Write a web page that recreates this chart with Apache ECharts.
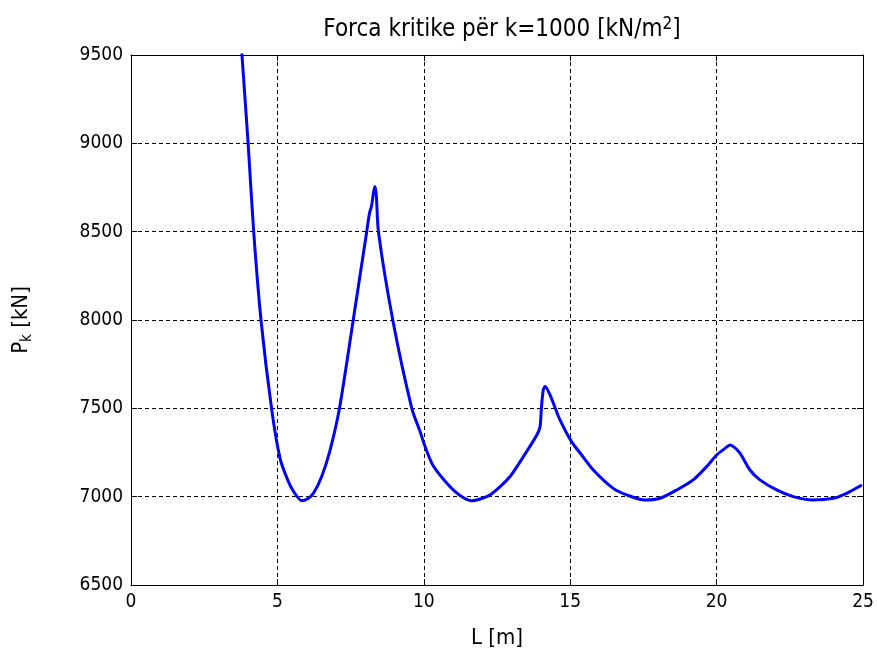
<!DOCTYPE html>
<html>
<head>
<meta charset="utf-8">
<script src="https://cdn.jsdelivr.net/npm/echarts@6/dist/echarts.min.js"></script>
<style>html,body{margin:0;padding:0;background:#fff}#c{width:877px;height:656px}</style>
</head>
<body>
<div id="c"></div>
<script>
const titleText = 'Forca kritike për k=1000 [kN/m{sup|2}]';
const xTicks = [0, 5, 10, 15, 20, 25];
const yTicks = [6500, 7000, 7500, 8000, 8500, 9000, 9500];
const L = [3.7, 3.79, 4.0, 4.19, 4.44, 4.80, 5.09, 5.35, 5.55, 5.83, 6.05, 6.23, 6.51, 6.80, 7.12, 7.59, 8.05, 8.14, 8.22, 8.28, 8.33, 8.38, 8.45, 8.94, 9.59, 9.87, 10.04, 10.32, 10.89, 11.25, 11.63, 12.26, 12.94, 13.51, 13.86, 13.97, 14.02, 14.08, 14.14, 14.31, 14.65, 15.05, 15.39, 15.79, 16.47, 16.93, 17.55, 18.07, 18.64, 19.2, 19.66, 20.0, 20.3, 20.46, 20.60, 20.80, 21.14, 21.48, 22.05, 22.62, 23.3, 23.99, 24.44, 24.96];
const P = [9730, 9500, 9000, 8500, 8000, 7500, 7217, 7095, 7030, 6977, 6990, 7019, 7113, 7264, 7500, 8000, 8500, 8600, 8650, 8720, 8755, 8700, 8500, 8000, 7500, 7370, 7285, 7175, 7057, 7005, 6977, 7010, 7113, 7255, 7349, 7396, 7510, 7604, 7623, 7576, 7434, 7310, 7236, 7151, 7047, 7010, 6981, 6991, 7038, 7095, 7170, 7236, 7275, 7293, 7280, 7246, 7151, 7095, 7038, 7000, 6981, 6991, 7019, 7066];

const FONT = '"Liberation Sans Narrow", "DejaVu Sans Condensed", "Liberation Sans", sans-serif';
const data = L.map((x, i) => [x, P[i]]);
const chart = echarts.init(document.getElementById('c'), null, {renderer: 'canvas'});
const baseAxis = {
  axisLine: {show: true, onZero: false, lineStyle: {color: '#000', width: 1}},
  axisTick: {show: true, inside: true, length: 6, lineStyle: {color: '#000'}},
  splitLine: {show: false},
  axisLabel: {show: false}
};
chart.setOption({
  animation: false,
  backgroundColor: '#fff',
  title: {
    text: titleText,
    left: 497, top: 11, textAlign: 'center',
    textStyle: {
      fontFamily: FONT, fontWeight: 'normal', fontSize: 24, color: '#000',
      rich: {sup: {fontFamily: FONT, fontSize: 17, verticalAlign: 'top', padding: [0, 0, 10, 0], color: '#000'}}
    }
  },
  grid: {left: 131, right: 14, top: 55, bottom: 71},
  xAxis: [{
    type: 'value', min: xTicks[0], max: xTicks[xTicks.length - 1], interval: 5,
    name: 'L [m]', nameLocation: 'middle', nameGap: 42,
    nameTextStyle: {fontFamily: FONT, fontSize: 22, color: '#000'},
    axisLine: {show: true, onZero: false, lineStyle: {color: '#000', width: 1}},
    axisTick: {show: true, inside: true, length: 6, lineStyle: {color: '#000'}},
    axisLabel: {fontFamily: FONT, fontSize: 19, color: '#000', margin: 8, formatter: v => String(v)},
    splitLine: {show: true, lineStyle: {color: '#000', type: [4, 3], width: 1}}
  }, Object.assign({type: 'value', position: 'top', min: 0, max: 25, interval: 5}, baseAxis)],
  yAxis: [{
    type: 'value', min: yTicks[0], max: yTicks[yTicks.length - 1], interval: 500,
    name: '{a|P}{s|k}{a| [kN]}', nameLocation: 'middle', nameGap: 96,
    nameTextStyle: {fontFamily: FONT, fontSize: 22, color: '#000',
      rich: {a: {fontFamily: FONT, fontSize: 22, color: '#000'}, s: {fontFamily: FONT, fontSize: 15, color: '#000', verticalAlign: 'bottom', padding: [12, 0, 0, 0]}}},
    axisLine: {show: true, onZero: false, lineStyle: {color: '#000', width: 1}},
    axisTick: {show: true, inside: true, length: 6, lineStyle: {color: '#000'}},
    axisLabel: {fontFamily: FONT, fontSize: 19, color: '#000', margin: 8, formatter: v => String(v)},
    splitLine: {show: true, lineStyle: {color: '#000', type: [4, 3], width: 1}}
  }, Object.assign({type: 'value', position: 'right', min: 6500, max: 9500, interval: 500}, baseAxis)],
  series: [{
    type: 'line', data: data, showSymbol: false, symbol: 'none', clip: true, smooth: 0.25,
    lineStyle: {color: '#0000FF', width: 3}, xAxisIndex: 0, yAxisIndex: 0
  }]
});
</script>
</body>
</html>
